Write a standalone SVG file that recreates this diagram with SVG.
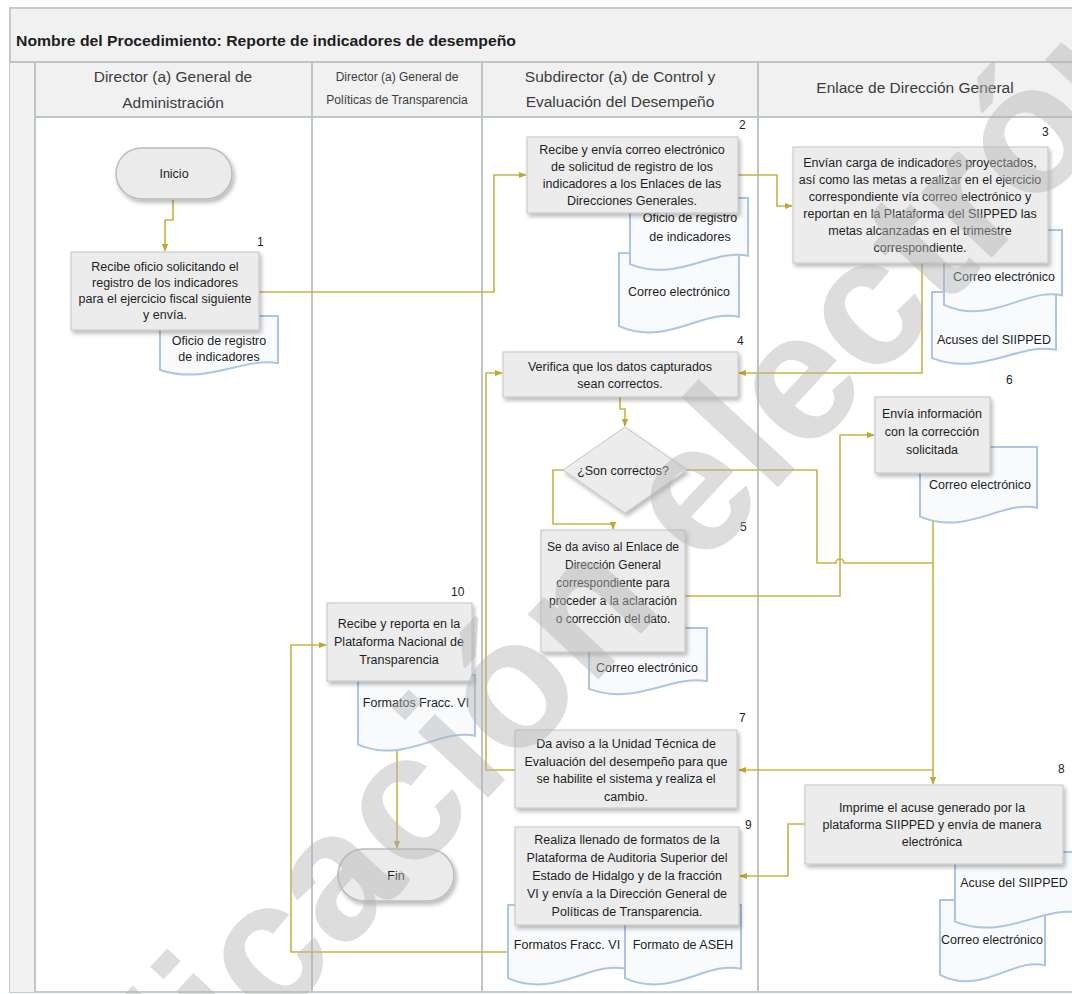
<svg xmlns="http://www.w3.org/2000/svg" width="1072" height="994" viewBox="0 0 1072 994">
<defs>
<style>
text{font-family:"Liberation Sans",Arial,sans-serif;fill:#1e1e1e}
.t{font-size:12.5px;text-anchor:middle}
.s{font-size:12px}
.n{font-size:12px}
.h{font-size:15.5px;text-anchor:middle;fill:#3c3c3c}
.h2{font-size:12px;text-anchor:middle;fill:#3c3c3c}
.box{fill:#ececec;stroke:#c4c4c4;stroke-width:1;filter:url(#sh)}
.doc{fill:#f8fafc;stroke:#aac6e4;stroke-width:2}
.term{fill:#ebebeb;stroke:#bcbcbc;stroke-width:1.5;filter:url(#sh)}
.c{fill:none;stroke:#c8b443;stroke-width:1.6;marker-end:url(#ah)}
.cn{fill:none;stroke:#c8b443;stroke-width:1.6}
.lane{stroke:#bcc6c6;stroke-width:2;fill:none}
.wm{font-family:"Liberation Sans",Arial,sans-serif;font-weight:bold;font-size:182px;fill:#b4b4b4;opacity:.45}
</style>
<filter id="sh" x="-10%" y="-10%" width="130%" height="140%"><feDropShadow dx="2" dy="3" stdDeviation="2" flood-color="#000" flood-opacity="0.28"/></filter>
<marker id="ah" viewBox="0 0 10 10" refX="9" refY="5" markerWidth="8" markerHeight="8" markerUnits="userSpaceOnUse" orient="auto"><path d="M0,1 L10,5 L0,9 Z" fill="#bfa82a"/></marker>
<path id="docp" d="M0,0H100V76C70,66 40,112 0,87Z" vector-effect="non-scaling-stroke"/>
</defs>

<g id="frame">
<rect x="10" y="8" width="1075" height="984" fill="#fff" stroke="#c3cbcb" stroke-width="2"/>
<rect x="10" y="8" width="1075" height="54" fill="#f1f1f1" stroke="#c3cbcb" stroke-width="2"/>
<rect x="35" y="62" width="1050" height="55" fill="#f1f1f1"/>
<rect x="10" y="62" width="25" height="930" fill="#f1f1f1"/>
<path class="lane" d="M10,62H1072 M35,117H1072 M35,62V992 M312,62V992 M482,62V992 M758,62V992"/>
<text x="16" y="46" font-size="15" font-weight="bold" textLength="500" lengthAdjust="spacingAndGlyphs">Nombre del Procedimiento: Reporte de indicadores de desempeño</text>
<text class="h" x="173" y="82">Director (a) General de</text>
<text class="h" x="173" y="108">Administración</text>
<text class="h2" x="397" y="81">Director (a) General de</text>
<text class="h2" x="397" y="104">Políticas de Transparencia</text>
<text class="h" x="620" y="82">Subdirector (a) de Control y</text>
<text class="h" x="620" y="107">Evaluación del Desempeño</text>
<text class="h" x="915" y="93">Enlace de Dirección General</text>
</g>

<g id="connectors">
<path class="c" d="M173,199 V220 H165 V251"/>
<path class="c" d="M259,292 H494 V175 H526"/>
<path class="c" d="M738,175 H777 V206 H792"/>
<path class="c" d="M922,263 V373 H739"/>
<path class="c" d="M620,397 V409 H625 V426"/>
<path class="c" d="M563,470 H553 V524 H613 V529"/>
<path class="cn" d="M687,470 H817 V563 H836 A4,4 0 0 1 844,563 H933"/>
<path class="c" d="M685,596 H840 V435 H874"/>
<path class="c" d="M933,518 V784"/>
<path class="c" d="M933,770 H739"/>
<path class="c" d="M515,770 H486 V373 H502"/>
<path class="c" d="M805,824 H788 V876 H740"/>
<path class="c" d="M508,952 H291 V645 H326"/>
<path class="c" d="M397,750 V848"/>
</g>

<g id="inicio">
<rect class="term" x="116" y="148" width="116" height="51" rx="25.5"/>
<text class="t" x="174" y="178">Inicio</text>
</g>

<g id="p1">
<use href="#docp" class="doc" transform="translate(160,316) scale(1.18,0.62)"/>
<text class="t" x="219" y="345">Oficio de registro</text>
<text class="t" x="219" y="361">de indicadores</text>
<rect class="box" x="71" y="252" width="188" height="78"/>
<text class="t"><tspan x="165" y="271">Recibe oficio solicitando el</tspan><tspan x="165" y="287">registro de los indicadores</tspan><tspan x="165" y="303">para el ejercicio fiscal siguiente</tspan><tspan x="165" y="319">y envía.</tspan></text>
<text class="n" x="257" y="246">1</text>
</g>

<g id="p2">
<use href="#docp" class="doc" transform="translate(619,253) scale(1.2,0.84)"/>
<text class="t" x="679" y="296">Correo electrónico</text>
<use href="#docp" class="doc" transform="translate(630,198) scale(1.18,0.76)"/>
<text class="t" x="690" y="222">Oficio de registro</text>
<text class="t" x="690" y="241">de indicadores</text>
<rect class="box" x="527" y="137" width="211" height="76"/>
<text class="t"><tspan x="632" y="154">Recibe y envía correo electrónico</tspan><tspan x="632" y="171">de solicitud de registro de los</tspan><tspan x="632" y="188">indicadores a los Enlaces de las</tspan><tspan x="632" y="205">Direcciones Generales.</tspan></text>
<text class="n" x="739" y="129">2</text>
</g>

<g id="p3">
<use href="#docp" class="doc" transform="translate(932,292) scale(1.24,0.76)"/>
<text class="t" x="994" y="344">Acuses del SIIPPED</text>
<use href="#docp" class="doc" transform="translate(944,230) scale(1.18,0.86)"/>
<text class="t" x="1004" y="281">Correo electrónico</text>
<rect class="box" x="793" y="147" width="255" height="116"/>
<text class="t"><tspan x="920" y="167">Envían carga de indicadores proyectados,</tspan><tspan x="920" y="184">así como las metas a realizar en el ejercicio</tspan><tspan x="920" y="201">correspondiente vía correo electrónico y</tspan><tspan x="920" y="218">reportan en la Plataforma del SIIPPED las</tspan><tspan x="920" y="235">metas alcanzadas en el trimestre</tspan><tspan x="920" y="252">correspondiente.</tspan></text>
<text class="n" x="1042" y="136">3</text>
</g>

<g id="p4">
<rect class="box" x="503" y="352" width="235" height="45"/>
<text class="t"><tspan x="620" y="371">Verifica que los datos capturados</tspan><tspan x="620" y="388">sean correctos.</tspan></text>
<text class="n" x="737" y="345">4</text>
</g>

<g id="decision">
<polygon class="box" points="625,427 687,470 625,513 563,470"/>
<text class="t" x="623" y="475">¿Son correctos?</text>
</g>

<g id="p5">
<use href="#docp" class="doc" transform="translate(589,628) scale(1.18,0.70)"/>
<text class="t" x="647" y="672">Correo electrónico</text>
<rect class="box" x="541" y="530" width="144" height="122"/>
<text class="t s"><tspan x="613" y="551">Se da aviso al Enlace de</tspan><tspan x="613" y="569">Dirección General</tspan><tspan x="613" y="587">correspondiente para</tspan><tspan x="613" y="605">proceder a la aclaración</tspan><tspan x="613" y="623">o corrección del dato.</tspan></text>
<text class="n" x="740" y="531">5</text>
</g>

<g id="p6">
<use href="#docp" class="doc" transform="translate(920,447) scale(1.17,0.80)"/>
<text class="t" x="980" y="489">Correo electrónico</text>
<rect class="box" x="875" y="397" width="115" height="76"/>
<text class="t"><tspan x="932" y="418">Envía información</tspan><tspan x="932" y="436">con la corrección</tspan><tspan x="932" y="454">solicitada</tspan></text>
<text class="n" x="1006" y="384">6</text>
</g>

<g id="p7">
<rect class="box" x="515" y="730" width="222" height="78"/>
<text class="t"><tspan x="626" y="748">Da aviso a la Unidad Técnica de</tspan><tspan x="626" y="765.5">Evaluación del desempeño para que</tspan><tspan x="626" y="783">se habilite el sistema y realiza el</tspan><tspan x="626" y="800.5">cambio.</tspan></text>
<text class="n" x="739" y="722">7</text>
</g>

<g id="p8">
<use href="#docp" class="doc" transform="translate(940,900) scale(1.05,0.86)"/>
<text class="t" x="992" y="944">Correo electrónico</text>
<use href="#docp" class="doc" transform="translate(955,852) scale(1.25,0.80)"/>
<text class="t" x="1014" y="887">Acuse del SIIPPED</text>
<rect class="box" x="805" y="785" width="258" height="79"/>
<text class="t"><tspan x="932" y="812">Imprime el acuse generado por la</tspan><tspan x="932" y="829">plataforma SIIPPED y envía de manera</tspan><tspan x="932" y="846">electrónica</tspan></text>
<text class="n" x="1058" y="773">8</text>
</g>

<g id="p9">
<use href="#docp" class="doc" transform="translate(508,905) scale(1.18,0.84)"/>
<use href="#docp" class="doc" transform="translate(625,905) scale(1.16,0.84)"/>
<text class="t" x="567" y="949">Formatos Fracc. VI</text>
<text class="t" x="683" y="949">Formato de ASEH</text>
<rect class="box" x="515" y="827" width="224" height="98"/>
<text class="t"><tspan x="627" y="844">Realiza llenado de formatos de la</tspan><tspan x="627" y="862">Plataforma de Auditoria Superior del</tspan><tspan x="627" y="880">Estado de Hidalgo y  de la fracción</tspan><tspan x="627" y="898">VI y envía a la Dirección General de</tspan><tspan x="627" y="916">Políticas de Transparencia.</tspan></text>
<text class="n" x="745" y="829">9</text>
</g>

<g id="p10">
<use href="#docp" class="doc" transform="translate(358,675) scale(1.17,0.80)"/>
<text class="t" x="416" y="707">Formatos Fracc. VI</text>
<rect class="box" x="327" y="603" width="145" height="78"/>
<text class="t"><tspan x="399" y="628">Recibe y reporta en la</tspan><tspan x="399" y="646">Plataforma Nacional de</tspan><tspan x="399" y="664">Transparencia</tspan></text>
<text class="n" x="451" y="596">10</text>
</g>

<g id="fin">
<rect class="term" x="338" y="849" width="116" height="52" rx="26"/>
<text class="t" x="396" y="880">Fin</text>
</g>

<g id="watermark">
<text class="wm" transform="translate(-24,1347) rotate(-47)">publicación electrónica</text>
</g>
</svg>
